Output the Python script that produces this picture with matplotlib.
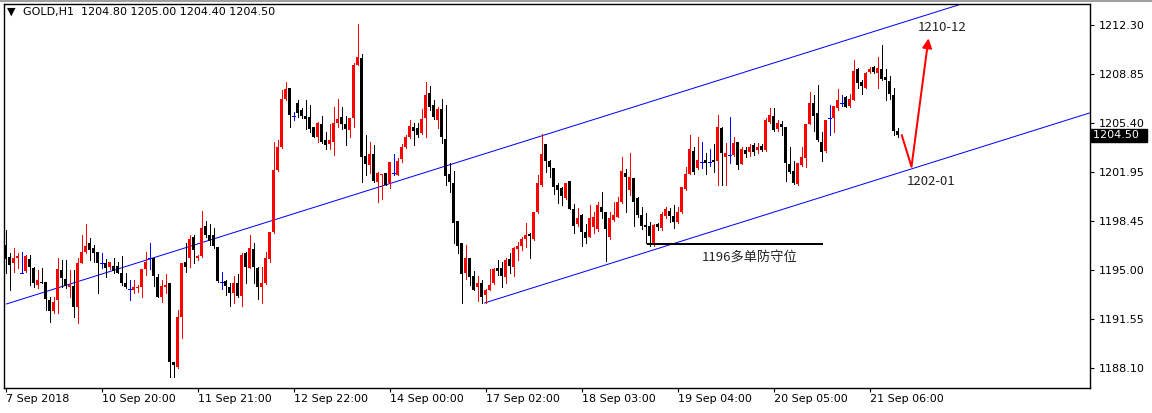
import matplotlib
matplotlib.use("Agg")
import matplotlib.pyplot as plt
import matplotlib.transforms as mtransforms
from matplotlib.lines import Line2D

# ---------------- data (GOLD, H1) ----------------
opens = [
    1196.77, 1195.95, 1195.48, 1195.83, 1194.82, 1194.96, 1195.76, 1195.12, 1193.95, 1194.18,
    1194.14, 1192.89, 1192.14, 1192.89, 1195.01, 1194.35, 1193.83, 1193.88, 1192.37, 1195.48,
    1196.30, 1196.89, 1196.53, 1196.25, 1195.48, 1195.48, 1195.24, 1195.31, 1195.31, 1194.82,
    1194.11, 1193.64, 1193.60, 1193.71, 1193.78, 1195.05, 1195.83, 1195.83, 1194.54, 1193.08,
    1193.78, 1194.06, 1188.54, 1188.18, 1191.71, 1195.59, 1195.83, 1197.31, 1195.83, 1196.00,
    1198.11, 1197.48, 1197.48, 1196.65, 1194.18, 1194.25, 1193.78, 1193.41, 1194.06, 1193.17,
    1196.18, 1195.12, 1196.46, 1195.12, 1193.78, 1194.06, 1195.76, 1197.71, 1202.07, 1203.71,
    1207.05, 1207.83, 1205.90, 1206.82, 1206.30, 1205.88, 1205.78, 1205.08, 1204.37, 1205.31,
    1204.18, 1203.90, 1204.07, 1205.41, 1205.78, 1205.31, 1204.89, 1205.71, 1209.48, 1209.95,
    1203.05, 1202.42, 1203.20, 1201.24, 1201.71, 1201.83, 1201.12, 1201.83, 1201.71, 1202.82,
    1203.71, 1204.42, 1205.08, 1205.01, 1204.65, 1205.71, 1207.48, 1206.65, 1205.60, 1206.35,
    1204.23, 1201.78, 1201.17, 1198.49, 1196.89, 1194.82, 1195.83, 1194.58, 1193.83, 1194.11,
    1193.24, 1193.60, 1194.06, 1195.12, 1195.12, 1194.54, 1195.76, 1195.24, 1196.46, 1196.70,
    1197.17, 1197.52, 1197.17, 1199.13, 1201.01, 1203.90, 1202.70, 1202.23, 1201.01, 1200.77,
    1200.06, 1201.29, 1199.29, 1198.25, 1198.89, 1197.71, 1197.36, 1198.01, 1197.88, 1199.43,
    1199.13, 1197.31, 1198.54, 1198.73, 1199.83, 1201.88, 1200.65, 1201.47, 1200.06, 1198.89,
    1198.18, 1198.11, 1196.93, 1198.25, 1197.95, 1198.82, 1199.20, 1198.82, 1198.42, 1199.13,
    1200.70, 1201.78, 1203.43, 1202.19, 1202.65, 1202.77, 1202.65, 1202.77, 1202.73, 1205.01,
    1203.01, 1203.12, 1203.12, 1204.07, 1202.49, 1203.48, 1203.36, 1203.83, 1203.48, 1203.76,
    1203.48, 1205.48, 1205.88, 1204.93, 1205.31, 1205.12, 1202.49, 1202.02, 1201.08, 1202.42,
    1202.89, 1205.31, 1206.82, 1206.07, 1204.07, 1203.43, 1205.71, 1205.71, 1206.42, 1206.82,
    1207.19, 1206.58, 1207.01, 1209.17, 1208.30, 1207.83, 1209.01, 1209.36, 1208.94, 1209.17,
    1208.61, 1208.37, 1207.36, 1204.80,
]
highs = [
    1197.83, 1196.18, 1196.53, 1196.18, 1196.30, 1196.07, 1196.07, 1195.24, 1195.01, 1195.12,
    1194.14, 1193.08, 1193.12, 1195.83, 1195.71, 1195.71, 1195.01, 1195.01, 1195.83, 1197.48,
    1198.25, 1197.24, 1196.77, 1196.30, 1196.23, 1195.76, 1195.59, 1195.83, 1195.59, 1196.00,
    1194.82, 1194.30, 1194.30, 1193.95, 1195.05, 1196.30, 1196.89, 1195.83, 1194.72, 1194.30,
    1194.72, 1194.06, 1188.54, 1192.18, 1195.48, 1196.89, 1197.48, 1197.48, 1196.07, 1199.20,
    1198.49, 1198.25, 1197.95, 1196.65, 1194.89, 1194.30, 1194.11, 1194.58, 1194.72, 1196.18,
    1196.30, 1197.48, 1196.89, 1195.24, 1195.24, 1196.30, 1197.71, 1204.07, 1204.18, 1207.71,
    1208.30, 1207.83, 1206.18, 1207.01, 1206.42, 1207.01, 1206.65, 1205.12, 1205.48, 1205.88,
    1204.77, 1205.31, 1206.49, 1207.05, 1206.49, 1205.88, 1205.71, 1209.59, 1212.37, 1210.25,
    1204.54, 1204.07, 1203.83, 1201.95, 1201.78, 1201.88, 1202.65, 1203.20, 1202.89, 1203.90,
    1204.54, 1205.60, 1205.36, 1205.41, 1206.35, 1208.30, 1208.00, 1207.01, 1206.49, 1207.05,
    1206.65, 1202.54, 1202.02, 1198.49, 1196.89, 1196.77, 1195.83, 1194.96, 1194.58, 1194.30,
    1193.64, 1195.05, 1195.12, 1195.71, 1195.59, 1195.83, 1196.23, 1196.65, 1197.00, 1197.31,
    1198.35, 1197.59, 1199.13, 1201.71, 1204.61, 1203.90, 1202.77, 1202.23, 1201.12, 1200.84,
    1201.12, 1201.31, 1199.66, 1199.36, 1198.94, 1198.25, 1199.60, 1199.13, 1199.83, 1200.54,
    1199.13, 1199.13, 1199.83, 1200.14, 1202.96, 1202.12, 1203.24, 1201.47, 1200.18, 1199.48,
    1199.01, 1198.42, 1198.25, 1198.30, 1199.13, 1199.48, 1199.36, 1199.60, 1199.43, 1200.89,
    1202.30, 1204.54, 1203.71, 1204.42, 1204.07, 1203.24, 1203.52, 1203.90, 1205.95, 1205.12,
    1203.95, 1205.78, 1204.42, 1204.07, 1203.71, 1203.71, 1203.90, 1204.00, 1203.95, 1203.90,
    1205.71, 1206.42, 1206.42, 1205.60, 1205.55, 1205.12, 1203.71, 1202.73, 1202.54, 1203.71,
    1205.31, 1207.59, 1207.36, 1208.07, 1204.77, 1205.60, 1206.65, 1206.58, 1207.76, 1207.36,
    1207.29, 1207.43, 1209.83, 1209.24, 1208.42, 1209.01, 1209.36, 1209.41, 1210.02, 1210.89,
    1209.17, 1208.70, 1207.83, 1205.00,
]
lows = [
    1194.77, 1193.60, 1194.89, 1195.12, 1194.77, 1194.89, 1193.95, 1193.83, 1193.71, 1194.06,
    1192.18, 1191.36, 1191.95, 1191.95, 1193.83, 1193.71, 1193.12, 1191.67, 1191.24, 1195.48,
    1196.18, 1195.71, 1195.59, 1193.41, 1195.12, 1194.49, 1195.05, 1194.77, 1194.77, 1193.95,
    1193.71, 1192.89, 1193.36, 1193.48, 1193.12, 1194.65, 1195.05, 1193.88, 1193.12, 1192.77,
    1193.36, 1187.48, 1187.48, 1188.06, 1190.18, 1194.89, 1195.24, 1195.48, 1195.71, 1195.95,
    1197.36, 1196.77, 1196.53, 1194.18, 1193.64, 1193.24, 1192.46, 1192.70, 1193.12, 1192.46,
    1194.06, 1195.12, 1194.06, 1192.94, 1192.70, 1194.02, 1195.59, 1197.64, 1202.02, 1203.59,
    1207.01, 1205.12, 1205.60, 1205.83, 1205.71, 1204.93, 1204.77, 1204.37, 1204.07, 1203.95,
    1203.52, 1203.52, 1203.12, 1205.12, 1204.93, 1203.83, 1204.37, 1205.08, 1209.48, 1201.24,
    1201.71, 1201.83, 1201.24, 1199.83, 1199.99, 1201.01, 1200.77, 1201.71, 1201.71, 1202.65,
    1203.59, 1204.30, 1203.83, 1204.37, 1204.61, 1204.42, 1206.30, 1205.64, 1205.01, 1203.95,
    1201.01, 1200.54, 1196.93, 1196.18, 1192.65, 1194.35, 1193.95, 1193.60, 1192.84, 1192.70,
    1192.65, 1193.60, 1194.02, 1194.65, 1193.78, 1194.06, 1194.82, 1194.58, 1195.71, 1196.42,
    1196.65, 1195.83, 1197.12, 1199.01, 1200.94, 1201.95, 1201.59, 1200.37, 1199.76, 1199.59,
    1199.99, 1199.29, 1197.59, 1198.11, 1196.70, 1196.93, 1197.31, 1197.59, 1197.78, 1198.65,
    1195.66, 1197.17, 1198.49, 1198.73, 1199.76, 1199.13, 1200.30, 1198.11, 1198.77, 1197.88,
    1196.89, 1196.70, 1196.70, 1197.83, 1197.83, 1198.65, 1198.42, 1197.95, 1198.35, 1199.06,
    1200.65, 1201.78, 1201.78, 1202.12, 1202.19, 1201.78, 1202.35, 1201.95, 1201.01, 1201.01,
    1201.01, 1202.54, 1203.05, 1202.12, 1202.49, 1203.01, 1203.05, 1203.12, 1203.29, 1203.43,
    1203.43, 1205.41, 1204.84, 1204.84, 1204.54, 1201.31, 1201.88, 1201.08, 1201.01, 1202.35,
    1202.30, 1205.31, 1204.84, 1204.14, 1202.73, 1203.36, 1204.54, 1204.77, 1206.30, 1206.58,
    1206.49, 1206.53, 1207.01, 1207.83, 1207.43, 1207.83, 1208.89, 1208.94, 1207.83, 1208.42,
    1207.01, 1207.05, 1204.54, 1204.40,
]
closes = [
    1195.76, 1195.36, 1195.83, 1196.00, 1194.82, 1196.00, 1195.24, 1194.06, 1194.30, 1194.06,
    1192.94, 1192.14, 1192.72, 1195.08, 1194.47, 1193.88, 1193.95, 1192.42, 1195.48, 1196.25,
    1196.72, 1196.42, 1196.18, 1195.48, 1195.48, 1195.12, 1195.59, 1194.96, 1194.82, 1194.06,
    1193.78, 1193.64, 1193.83, 1193.83, 1195.05, 1195.59, 1195.83, 1194.58, 1193.12, 1193.88,
    1193.95, 1188.54, 1188.30, 1191.71, 1195.48, 1195.24, 1197.17, 1196.42, 1196.00, 1197.95,
    1197.48, 1197.08, 1196.70, 1194.25, 1194.18, 1193.88, 1193.36, 1194.11, 1193.17, 1196.07,
    1195.24, 1196.53, 1195.24, 1193.78, 1194.11, 1195.83, 1197.71, 1202.07, 1203.71, 1207.05,
    1207.76, 1205.95, 1205.90, 1206.11, 1205.88, 1205.64, 1204.93, 1204.37, 1205.36, 1204.07,
    1203.83, 1204.18, 1205.36, 1205.64, 1205.31, 1204.93, 1205.71, 1209.48, 1210.07, 1202.96,
    1202.49, 1203.20, 1201.29, 1201.83, 1201.78, 1201.01, 1202.65, 1201.83, 1202.70, 1203.71,
    1204.42, 1205.17, 1204.84, 1204.54, 1205.67, 1207.36, 1206.53, 1205.78, 1206.35, 1204.37,
    1201.64, 1201.24, 1198.35, 1196.70, 1194.72, 1195.83, 1194.49, 1193.60, 1194.06, 1193.12,
    1193.60, 1193.95, 1195.05, 1194.96, 1194.58, 1195.71, 1195.29, 1196.53, 1196.70, 1197.17,
    1197.48, 1197.41, 1199.13, 1201.17, 1203.20, 1202.73, 1202.30, 1200.84, 1200.65, 1200.23,
    1201.12, 1199.29, 1198.11, 1198.65, 1197.71, 1197.24, 1198.65, 1198.77, 1199.60, 1199.13,
    1197.88, 1198.65, 1198.89, 1199.83, 1202.02, 1201.59, 1201.59, 1199.83, 1198.89, 1198.11,
    1198.06, 1197.41, 1198.18, 1198.06, 1198.96, 1199.29, 1198.82, 1198.42, 1199.13, 1200.84,
    1201.78, 1203.55, 1201.95, 1202.77, 1202.65, 1202.54, 1202.65, 1202.65, 1205.08, 1203.24,
    1203.24, 1203.12, 1203.99, 1202.42, 1203.52, 1203.20, 1203.71, 1203.36, 1203.71, 1203.48,
    1205.60, 1205.95, 1204.89, 1205.41, 1205.12, 1202.54, 1201.95, 1201.17, 1202.54, 1203.01,
    1205.31, 1206.82, 1205.88, 1204.18, 1203.36, 1205.60, 1205.71, 1206.58, 1207.01, 1206.82,
    1206.53, 1207.05, 1209.08, 1208.23, 1208.00, 1208.94, 1209.17, 1209.01, 1209.24, 1208.47,
    1208.42, 1207.43, 1204.84, 1204.50,
]

tick_bars = [0, 24, 48, 72, 96, 120, 144, 168, 192, 216]
tick_labels = ["7 Sep 2018", "10 Sep 20:00", "11 Sep 21:00", "12 Sep 22:00", "14 Sep 00:00",
               "17 Sep 02:00", "18 Sep 03:00", "19 Sep 04:00", "20 Sep 05:00", "21 Sep 06:00"]
price_ticks = [1212.30, 1208.85, 1205.40, 1201.95, 1198.45, 1195.00, 1191.55, 1188.10]

symbol = "GOLD,H1"
last_ohlc = [1204.80, 1205.00, 1204.40, 1204.50]

# channel (bar index, price)
channel_upper = [(0.25, 1192.61), (271.25, 1216.64)]
channel_lower = [(119.75, 1192.68), (271.25, 1206.11)]
support_level = 1196.84
support_span = (160.25, 204.25)
support_text = "1196多单防守位"
support_text_pos = (186.0, 1195.95)
path_points = [(224.0, 1204.58), (226.5, 1202.30), (230.75, 1211.36)]
target_label = "1210-12"
target_label_pos = (228.0, 1212.10)
dip_label = "1202-01"
dip_label_pos = (225.2, 1201.25)

# ---------------- figure ----------------
W, H = 1152, 413
PX = 72 / 100  # one pixel in points
CJK = ["Noto Sans CJK SC", "DejaVu Sans"]
fig = plt.figure(figsize=(W / 100, H / 100), dpi=100)
fig.patch.set_facecolor("white")
L, R, T, B = 4, 1090, 4, 388
ax = fig.add_axes([L / W, 1 - B / H, (R - L) / W, (B - T) / H])
ax.set_xlim(-0.375, 271.125)
ax.set_ylim(1186.68, 1213.78)
ax.set_facecolor("white")

n = len(opens)
xs = list(range(n))
cols = []
for o, c in zip(opens, closes):
    if c > o:
        cols.append("#ff0000")
    elif c < o:
        cols.append("#000000")
    else:
        cols.append("#0000ff")

ax.vlines(xs, lows, highs, colors=cols, linewidth=PX, antialiased=False, zorder=3)
min_h = 0.06
for x, o, c, col in zip(xs, opens, closes, cols):
    if o == c:
        ax.hlines(o, x - 0.35, x + 0.35, colors=col, linewidth=PX, antialiased=False, zorder=4)
    else:
        lo = min(o, c)
        h = max(abs(c - o), min_h)
        ax.bar(x, h, bottom=lo, width=0.7, color=col, edgecolor=col, linewidth=0,
               antialiased=False, zorder=4)

# channel lines
for seg in (channel_upper, channel_lower):
    ax.plot([p[0] for p in seg], [p[1] for p in seg], color="#0000ff", lw=PX, zorder=2)

# support line + label
ax.hlines(support_level, support_span[0], support_span[1], colors="black", lw=2 * PX, zorder=5)
ax.text(support_text_pos[0], support_text_pos[1], support_text,
        ha="center", va="center", fontsize=9.5, color="#222222", family=CJK, zorder=6)

# red path + arrow
ax.plot([path_points[0][0], path_points[1][0]], [path_points[0][1], path_points[1][1]],
        color="#ff0000", lw=2 * PX, solid_capstyle="butt", zorder=6)
ax.annotate("", xy=path_points[2], xytext=path_points[1],
            arrowprops=dict(arrowstyle="-|>", color="#ff0000", lw=2 * PX,
                            mutation_scale=14, shrinkA=0, shrinkB=0), zorder=6)
ax.text(target_label_pos[0], target_label_pos[1], target_label, ha="left", va="center",
        fontsize=9.5, family=CJK, color="#222222", zorder=6)
ax.text(dip_label_pos[0], dip_label_pos[1], dip_label, ha="left", va="center",
        fontsize=9.5, family=CJK, color="#222222", zorder=6)

# axes styling
for s in ax.spines.values():
    s.set_color("black")
    s.set_linewidth(1.0)
ax.yaxis.tick_right()
ax.set_yticks(price_ticks)
ax.set_yticklabels([f"{v:.2f}" for v in price_ticks])
ax.set_xticks(tick_bars)
ax.set_xticklabels(tick_labels, ha="left")
ax.tick_params(axis="y", direction="out", length=3, width=0.8, pad=3, labelsize=8, colors="black")
ax.tick_params(axis="x", direction="out", length=3, width=0.8, pad=1.5, labelsize=8, colors="black")
for lbl in ax.get_xticklabels():
    lbl.set_horizontalalignment("left")

# current price box
trans = mtransforms.blended_transform_factory(ax.transAxes, ax.transData)
ax.text(1.0025, last_ohlc[3], f"{last_ohlc[3]:.2f}  ", transform=trans, ha="left", va="center",
        fontsize=8, color="white", zorder=10, clip_on=False,
        bbox=dict(boxstyle="square,pad=0.15", facecolor="black", edgecolor="black"))

# header
fig.text(7 / W, 1 - 12 / H, "\u25bc", fontsize=8, ha="left", va="center", color="black")
fig.text(23 / W, 1 - 12 / H,
         f"{symbol}  " + " ".join(f"{v:.2f}" for v in last_ohlc),
         fontsize=8, ha="left", va="center", color="black")

# thin gray frame line at very top
fig.add_artist(Line2D([0, 1], [1 - 0.8 / H, 1 - 0.8 / H], transform=fig.transFigure,
                      color="#a0a0a0", lw=1.5))

fig.savefig("out.png", dpi=100, facecolor="white")
